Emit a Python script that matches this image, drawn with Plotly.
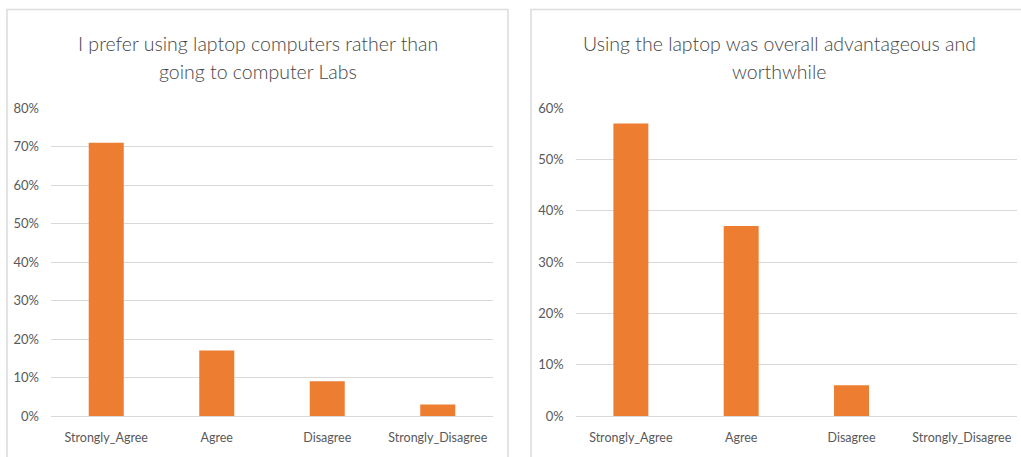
import plotly.graph_objects as go
from plotly.subplots import make_subplots

# Survey responses (share of respondents)
categories = ["Strongly_Agree", "Agree", "Disagree", "Strongly_Disagree"]
prefer_laptop = [0.71, 0.17, 0.09, 0.03]
laptop_worthwhile = [0.57, 0.37, 0.06, 0.00]

left_title = ["I prefer using laptop computers rather than", "going to computer Labs"]
right_title = ["Using the laptop was overall advantageous and", "worthwhile"]

W, H = 1021, 457
BAR = "#ED7D31"
TEXT = "#595959"
GRID = "#D9D9D9"
FONT = "Lato"


def px_x(p):
    return p / W


def px_y(p):
    return 1 - p / H


fig = make_subplots(rows=1, cols=2)

fig.add_trace(go.Bar(x=categories, y=prefer_laptop, marker_color=BAR,
                     marker_line_width=0, showlegend=False), row=1, col=1)
fig.add_trace(go.Bar(x=categories, y=laptop_worthwhile, marker_color=BAR,
                     marker_line_width=0, showlegend=False), row=1, col=2)

ydom = [px_y(416), px_y(108)]
fig.update_layout(
    width=W, height=H, autosize=False,
    margin=dict(l=0, r=0, t=0, b=0, pad=0, autoexpand=False),
    paper_bgcolor="white", plot_bgcolor="white",
    bargap=0.683,
    font=dict(family=FONT, color=TEXT, size=12),
    xaxis=dict(domain=[px_x(51), px_x(493)]),
    xaxis2=dict(domain=[px_x(575.7), px_x(1017)]),
    yaxis=dict(domain=ydom, range=[0, 0.8]),
    yaxis2=dict(domain=ydom, range=[0, 0.6]),
)

fig.update_xaxes(showgrid=False, showline=False, zeroline=False, ticks="",
                 automargin=False, ticklabelstandoff=12,
                 tickfont=dict(size=12.5, color=TEXT, family=FONT))
fig.update_yaxes(showgrid=True, gridcolor=GRID, gridwidth=1, zeroline=True,
                 zerolinecolor=GRID, zerolinewidth=1, showline=False, ticks="",
                 automargin=False, dtick=0.1, tickformat=".0%", ticklabelstandoff=11,
                 tickfont=dict(size=13, color=TEXT, family=FONT))

# Panel frames (open at the bottom edge of the page)
for x0, x1 in [(7, 508), (531, 1030)]:
    fig.add_shape(type="rect", xref="paper", yref="paper",
                  x0=px_x(x0), x1=px_x(x1), y0=px_y(480), y1=px_y(9.5),
                  line=dict(color="#DCDCDC", width=1.5), fillcolor="rgba(0,0,0,0)",
                  layer="below")

# Chart titles, one annotation per line
for cx, lines in [(257.5, left_title), (779, right_title)]:
    for i, line in enumerate(lines):
        fig.add_annotation(text=line, xref="paper", yref="paper",
                           x=px_x(cx), y=px_y(43 + 28 * i), xanchor="center",
                           yanchor="middle", showarrow=False,
                           font=dict(family=FONT, size=19.5, color="#454545", weight=300))

fig.write_html("out.html")
